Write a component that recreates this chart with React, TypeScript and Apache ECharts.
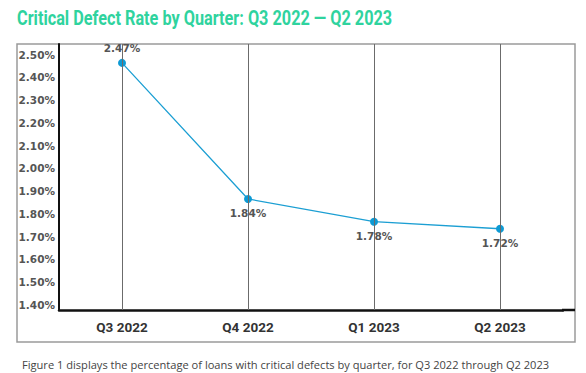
import React, { useEffect, useRef } from "react";
import * as echarts from "echarts";

const titleText = "Critical Defect Rate by Quarter: Q3 2022 \u2014 Q2 2023";
const captionText =
  "Figure 1 displays the percentage of loans with critical defects by quarter, for Q3 2022 through Q2 2023";
const categories = ["Q3 2022", "Q4 2022", "Q1 2023", "Q2 2023"];
// plotted positions
const defectRate = [2.464, 1.866, 1.766, 1.735];
// printed data labels
const defectLabels = ["2.47%", "1.84%", "1.78%", "1.72%"];
const labelSides = ["top", "bottom", "bottom", "bottom"];
const yTicks = [1.4, 1.5, 1.6, 1.7, 1.8, 1.9, 2.0, 2.1, 2.2, 2.3, 2.4, 2.5];
const yMin = 1.378;
const yMax = 2.547;

export default function App() {
  const ref = useRef<HTMLDivElement>(null);
  useEffect(() => {
    if (!ref.current) return;
    const chart = echarts.init(ref.current, null, { renderer: "svg" });
    const labelFont = {
      fontFamily: "DejaVu Sans",
      fontWeight: "bold" as const,
      fontSize: 10.5,
      color: "#555555",
    };
    chart.setOption({
      animation: false,
      backgroundColor: "#ffffff",
      title: [
        {
          text: captionText,
          left: 17,
          top: 354,
          textStyle: {
            fontFamily: "Open Sans",
            fontWeight: "normal",
            fontSize: 11.1,
            color: "#444444",
          },
        },
      ],
      grid: { left: 59, right: 23, top: 44, bottom: 63, containLabel: false },
      xAxis: {
        type: "category",
        data: categories,
        boundaryGap: true,
        axisLine: { show: true, lineStyle: { color: "#111111", width: 2.5 } },
        axisTick: { show: false },
        splitLine: { show: false },
        axisLabel: {
          margin: 10,
          fontFamily: "Roboto",
          fontWeight: "bold",
          fontSize: 13.5,
          color: "#333333",
        },
      },
      yAxis: {
        type: "value",
        min: yMin,
        max: yMax,
        axisLine: { show: true, lineStyle: { color: "#111111", width: 2 } },
        axisTick: { show: false },
        splitLine: { show: false },
        axisLabel: {
          customValues: yTicks,
          margin: 4,
          formatter: (v: number) => v.toFixed(2) + "%",
          ...labelFont,
        },
      },
      series: [
        {
          type: "line",
          data: defectRate.map((v, i) => ({
            value: v,
            label: {
              show: true,
              position: labelSides[i],
              distance: 5,
              formatter: () => defectLabels[i],
              ...labelFont,
            },
          })),
          symbol: "circle",
          symbolSize: 8,
          lineStyle: { color: "#1c9fd3", width: 1.3 },
          itemStyle: { color: "#0d9ad4" },
          markLine: {
            silent: true,
            symbol: ["none", "none"],
            label: { show: false },
            lineStyle: { color: "#6b6b6b", width: 1, type: "solid" },
            data: categories.map((c) => ({ xAxis: c })),
          },
          z: 3,
        },
      ],
      graphic: [
        {
          type: "text",
          x: 17,
          y: 18,
          scaleX: 0.775,
          style: {
            text: titleText,
            fontFamily: "Roboto",
            fontWeight: "bold",
            fontSize: 21,
            fill: "#2fd39e",
            verticalAlign: "middle",
            align: "left",
          },
        },
        {
          type: "rect",
          shape: { x: 17, y: 44, width: 558, height: 298 },
          style: { fill: "none", stroke: "#9a9a9a", lineWidth: 1.5 },
          z: -1,
        },
        {
          type: "line",
          shape: { x1: 562, y1: 310, x2: 575, y2: 310 },
          style: { stroke: "#111111", lineWidth: 2.5 },
        },
      ],
    });
    return () => chart.dispose();
  }, []);
  return (
    <div
      ref={ref}
      style={{ position: "fixed", left: 0, top: 0, width: 586, height: 373 }}
    />
  );
}
